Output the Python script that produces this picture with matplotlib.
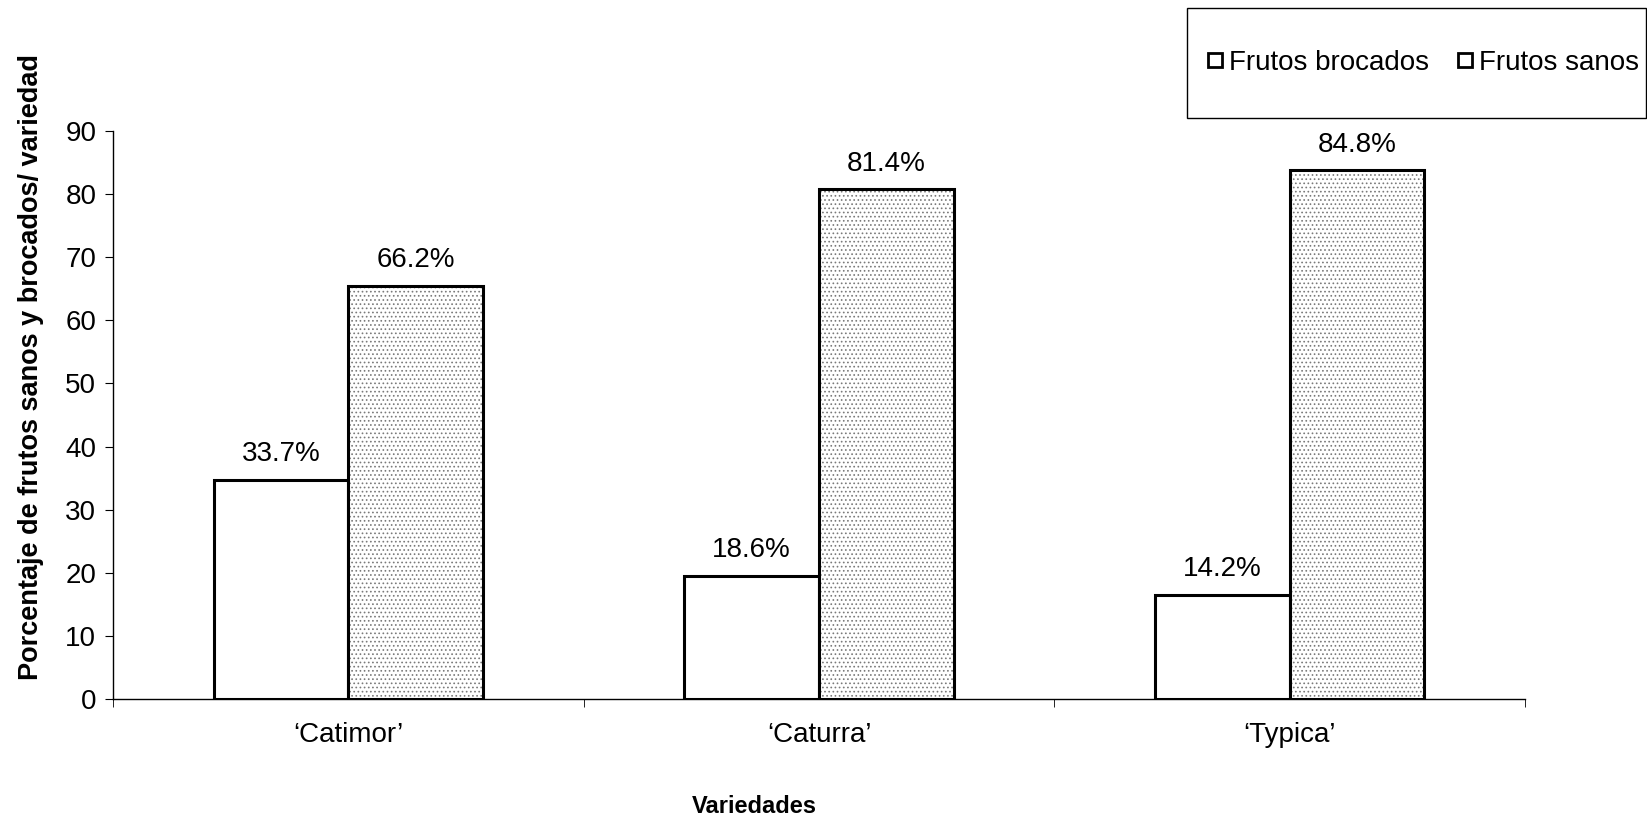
import matplotlib.pyplot as plt
import matplotlib.lines as mlines
import matplotlib.patches as mpatches
import numpy as np

plt.rcParams['font.family'] = ['Liberation Sans', 'DejaVu Sans']
plt.rcParams['hatch.linewidth'] = 0.7

variedades = ["\u2018Catimor\u2019", "\u2018Caturra\u2019", "\u2018Typica\u2019"]
brocados = [34.7, 19.5, 16.5]
sanos = [65.5, 80.8, 83.8]
etiquetas_brocados = ['33.7%', '18.6%', '14.2%']
etiquetas_sanos = ['66.2%', '81.4%', '84.8%']

fig = plt.figure(figsize=(16.47, 8.21), dpi=100)
ax = fig.add_axes([0.0686, 0.149, 0.8574, 0.691])

x = np.arange(len(variedades))
w = 0.286

ax.bar(x - w / 2, brocados, w, color='white', edgecolor='black', linewidth=2.2)
ax.bar(x + w / 2, sanos, w, color='white', edgecolor='#7a7a7a', linewidth=0,
       hatch='....')
# black outline on top of the stipple
ax.bar(x + w / 2, sanos, w, color='none', edgecolor='black', linewidth=2.2)

for xi, v, t in zip(x - w / 2, brocados, etiquetas_brocados):
    ax.text(xi, v + 2.0, t, ha='center', va='bottom', fontsize=20)
for xi, v, t in zip(x + w / 2, sanos, etiquetas_sanos):
    ax.text(xi, v + 2.0, t, ha='center', va='bottom', fontsize=20)

ax.set_xlim(-0.5, 2.5)
ax.set_ylim(0, 90)
ax.set_yticks(np.arange(0, 91, 10))
ax.set_xticks(x)
ax.set_xticklabels(variedades)
ax.set_xticks([-0.5, 0.5, 1.5, 2.5], minor=True)
ax.tick_params(axis='x', which='major', length=0, labelsize=20, pad=17)
ax.tick_params(axis='x', which='minor', length=6, direction='out')
ax.tick_params(axis='y', labelsize=20, length=6, direction='out', pad=6)

for s in ['top', 'right']:
    ax.spines[s].set_visible(False)
ax.spines['left'].set_linewidth(1.0)
ax.spines['bottom'].set_linewidth(1.0)

fig.text(0.019, 0.553, 'Porcentaje de frutos sanos y brocados/ variedad', fontsize=19.5,
         fontweight='bold', rotation=90, ha='center', va='center')
fig.text(0.458, 0.004, 'Variedades', ha='center', va='bottom', fontsize=17, fontweight='bold')

# legend box
box = mpatches.Rectangle((0.7207, 0.856), 0.2785, 0.134, transform=fig.transFigure,
                         fill=False, edgecolor='black', linewidth=1.0)
fig.patches.append(box)

h1 = mlines.Line2D([], [], marker='s', linestyle='none', markerfacecolor='white',
                   markeredgecolor='black', markersize=10, markeredgewidth=2)
h2 = mlines.Line2D([], [], marker='s', linestyle='none', markerfacecolor='white',
                   markeredgecolor='black', markersize=10, markeredgewidth=2)
leg = fig.legend([h1, h2], ['Frutos brocados', 'Frutos sanos'], ncol=2,
                 loc='center', bbox_to_anchor=(0.7207 + 0.2785 / 2 + 0.003, 0.923),
                 fontsize=20, frameon=False, handletextpad=0.1, columnspacing=0.9,
                 handlelength=0.8, borderaxespad=0)

fig.savefig('out.png', dpi=100)
